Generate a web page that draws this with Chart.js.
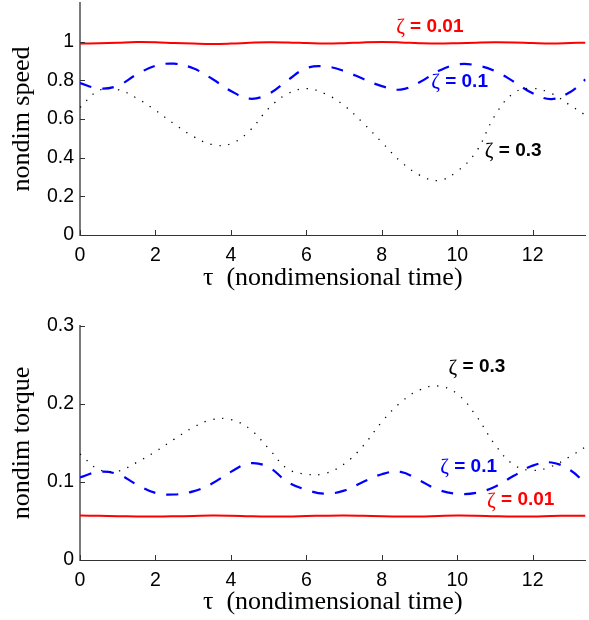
<!DOCTYPE html>
<html><head><meta charset="utf-8">
<script src="https://cdn.jsdelivr.net/npm/chart.js@4.4.1/dist/chart.umd.min.js"></script>
<style>
html,body{margin:0;padding:0;background:#fff;}
#wrap{position:relative;width:589px;height:620px;overflow:hidden;}
canvas{position:absolute;left:0;}
</style></head><body>
<div id="wrap">
<canvas id="c1" width="589" height="300" style="top:0px"></canvas>
<canvas id="c2" width="589" height="320" style="top:300px"></canvas>
</div>
<script>
// ---- data ----
const tau = [0,0.5,1,1.5,2,2.5,3,3.5,4,4.5,5,5.5,6,6.5,7,7.5,8,8.5,9,9.5,10,10.5,11,11.5,12,12.5,13,13.4];

const speedZeta001 = [0.990,0.992,0.995,0.998,0.997,0.993,0.990,0.988,0.990,0.994,0.997,0.996,0.993,0.990,0.992,0.996,0.998,0.996,0.992,0.990,0.992,0.995,0.997,0.996,0.993,0.991,0.993,0.995];
const speedZeta01  = [0.786,0.758,0.772,0.830,0.875,0.886,0.862,0.808,0.745,0.705,0.730,0.800,0.863,0.872,0.848,0.808,0.770,0.752,0.790,0.848,0.882,0.878,0.848,0.793,0.733,0.703,0.740,0.805];
const speedZeta03  = [0.660,0.748,0.752,0.708,0.645,0.574,0.510,0.468,0.472,0.540,0.655,0.730,0.757,0.730,0.670,0.580,0.480,0.380,0.310,0.282,0.330,0.430,0.618,0.735,0.758,0.732,0.670,0.620];

const torqueZeta001 = [0.0570,0.0567,0.0562,0.0558,0.0557,0.0560,0.0565,0.0570,0.0568,0.0562,0.0558,0.0558,0.0563,0.0568,0.0570,0.0566,0.0560,0.0557,0.0559,0.0565,0.0570,0.0568,0.0562,0.0558,0.0559,0.0564,0.0568,0.0568];
const torqueZeta01  = [0.106,0.113,0.110,0.097,0.086,0.084,0.088,0.098,0.113,0.124,0.119,0.100,0.090,0.085,0.089,0.100,0.110,0.113,0.102,0.090,0.085,0.086,0.094,0.108,0.121,0.125,0.115,0.098];
const torqueZeta03  = [0.136,0.116,0.114,0.125,0.139,0.155,0.170,0.180,0.180,0.168,0.143,0.117,0.110,0.111,0.123,0.146,0.177,0.202,0.218,0.223,0.213,0.185,0.148,0.122,0.115,0.120,0.133,0.145];

const xTicks = [0,2,4,6,8,10,12];
const speedTicks = [0,0.2,0.4,0.6,0.8,1];
const torqueTicks = [0,0.1,0.2,0.3];
const zetaNames = ['0.01','0.1','0.3'];

// ---- styling ----
const RED = '#ff0000', BLUE = '#0000ff', BLACK = '#000000';

function pts(arr){ return tau.map((t,i)=>({x:t,y:arr[i]})); }

const inwardTicks = {
  id:'inwardTicks',
  afterDatasetsDraw(chart){
    const {ctx, chartArea:a, scales:{x,y}} = chart;
    ctx.save();
    ctx.strokeStyle = '#333'; ctx.lineWidth = 1;
    x.ticks.forEach(t=>{
      const px = Math.round(x.getPixelForValue(t.value)) + 0.5;
      ctx.beginPath(); ctx.moveTo(px, a.bottom); ctx.lineTo(px, a.bottom - 5); ctx.stroke();
    });
    y.ticks.forEach(t=>{
      const py = Math.round(y.getPixelForValue(t.value)) + 0.5;
      ctx.beginPath(); ctx.moveTo(a.left, py); ctx.lineTo(a.left + 5, py); ctx.stroke();
    });
    ctx.restore();
  }
};

const zetaLabels = {
  id:'zetaLabels',
  afterDatasetsDraw(chart, args, opts){
    const {ctx, scales:{x,y}} = chart;
    ctx.save();
    ctx.textBaseline = 'middle'; ctx.textAlign = 'left';
    (opts.items||[]).forEach(it=>{
      const px = x.getPixelForValue(it.x), py = y.getPixelForValue(it.y);
      ctx.fillStyle = it.color;
      ctx.font = '21px "Liberation Serif"';
      ctx.fillText('\u03B6', px, py + 1);
      const w = ctx.measureText('\u03B6').width;
      ctx.font = 'bold 19px "Liberation Sans"';
      ctx.fillText(' = ' + it.text, px + w, py);
    });
    ctx.restore();
  }
};

function makeChart(id, cfg){
  const ds = (data, color, dash, width) => ({
    data: pts(data), borderColor: color, borderWidth: width, borderDash: dash,
    pointRadius: 0, tension: 0.4, fill: false, borderCapStyle: 'butt'
  });
  return new Chart(document.getElementById(id), {
    type: 'line',
    data: { datasets: [
      ds(cfg.z03, BLACK, [1.3, 7.7], 1.3),
      ds(cfg.z01, BLUE, [12, 11], 2.2),
      ds(cfg.z001, RED, [], 2)
    ]},
    options: {
      responsive: false, animation: false, devicePixelRatio: 1,
      layout: { padding: { left: 0, right: 3.5, top: cfg.padTop, bottom: 0 } },
      plugins: { legend: {display:false}, tooltip: {enabled:false}, zetaLabels: {items: cfg.labels} },
      scales: {
        x: {
          type: 'linear', min: 0, max: 13.4,
          afterBuildTicks: s => { s.ticks = xTicks.map(v => ({value: v})); },
          afterFit: s => { s.height = cfg.xHeight; s.paddingLeft = 0; s.paddingRight = 0; s.paddingTop = 0; s.paddingBottom = 0; },
          grid: { drawOnChartArea: false, drawTicks: false },
          border: { display: true, color: '#333', width: 1 },
          ticks: { padding: 9, color: '#000', maxRotation: 0, autoSkip: false,
                   font: { family: '"Liberation Sans"', size: 19.5 }, callback: v => String(v) },
          title: { display: true, text: '\u03C4  (nondimensional time)', color: '#000',
                   font: { family: '"Liberation Serif"', size: 26 }, padding: { top: 0, bottom: cfg.xTitlePad } }
        },
        y: {
          type: 'linear', min: 0, max: cfg.yMax,
          afterBuildTicks: s => { s.ticks = cfg.yTicks.map(v => ({value: v})); },
          afterFit: s => { s.width = 80; s.paddingLeft = 0; s.paddingRight = 0; s.paddingTop = 0; s.paddingBottom = 0; },
          grid: { drawOnChartArea: false, drawTicks: false },
          border: { display: true, color: '#7a7a7a', width: 2 },
          ticks: { padding: 6, color: '#000', autoSkip: false,
                   font: { family: '"Liberation Sans"', size: 19.5 }, callback: v => String(v) },
          title: { display: true, text: cfg.yTitle, color: '#000',
                   font: { family: '"Liberation Serif"', size: 26 }, padding: { top: 6.6, bottom: 0 } }
        }
      }
    },
    plugins: [inwardTicks, zetaLabels]
  });
}

makeChart('c1', {
  z001: speedZeta001, z01: speedZeta01, z03: speedZeta03,
  yMax: 1.2, yTicks: speedTicks, yTitle: 'nondim speed',
  padTop: 3, xHeight: 65, xTitlePad: 6.2,
  labels: [
    {text: zetaNames[0], color: RED,   x: 8.38,  y: 1.076},
    {text: zetaNames[1], color: BLUE,  x: 9.31,  y: 0.793},
    {text: zetaNames[2], color: BLACK, x: 10.73, y: 0.437}
  ]
});
makeChart('c2', {
  z001: torqueZeta001, z01: torqueZeta01, z03: torqueZeta03,
  yMax: 0.3, yTicks: torqueTicks, yTitle: 'nondim torque',
  padTop: 26, xHeight: 60, xTitlePad: 2,
  labels: [
    {text: zetaNames[0], color: RED,   x: 10.79, y: 0.0769},
    {text: zetaNames[1], color: BLUE,  x: 9.55,  y: 0.1196},
    {text: zetaNames[2], color: BLACK, x: 9.77,  y: 0.2474}
  ]
});
</script>
</body></html>
